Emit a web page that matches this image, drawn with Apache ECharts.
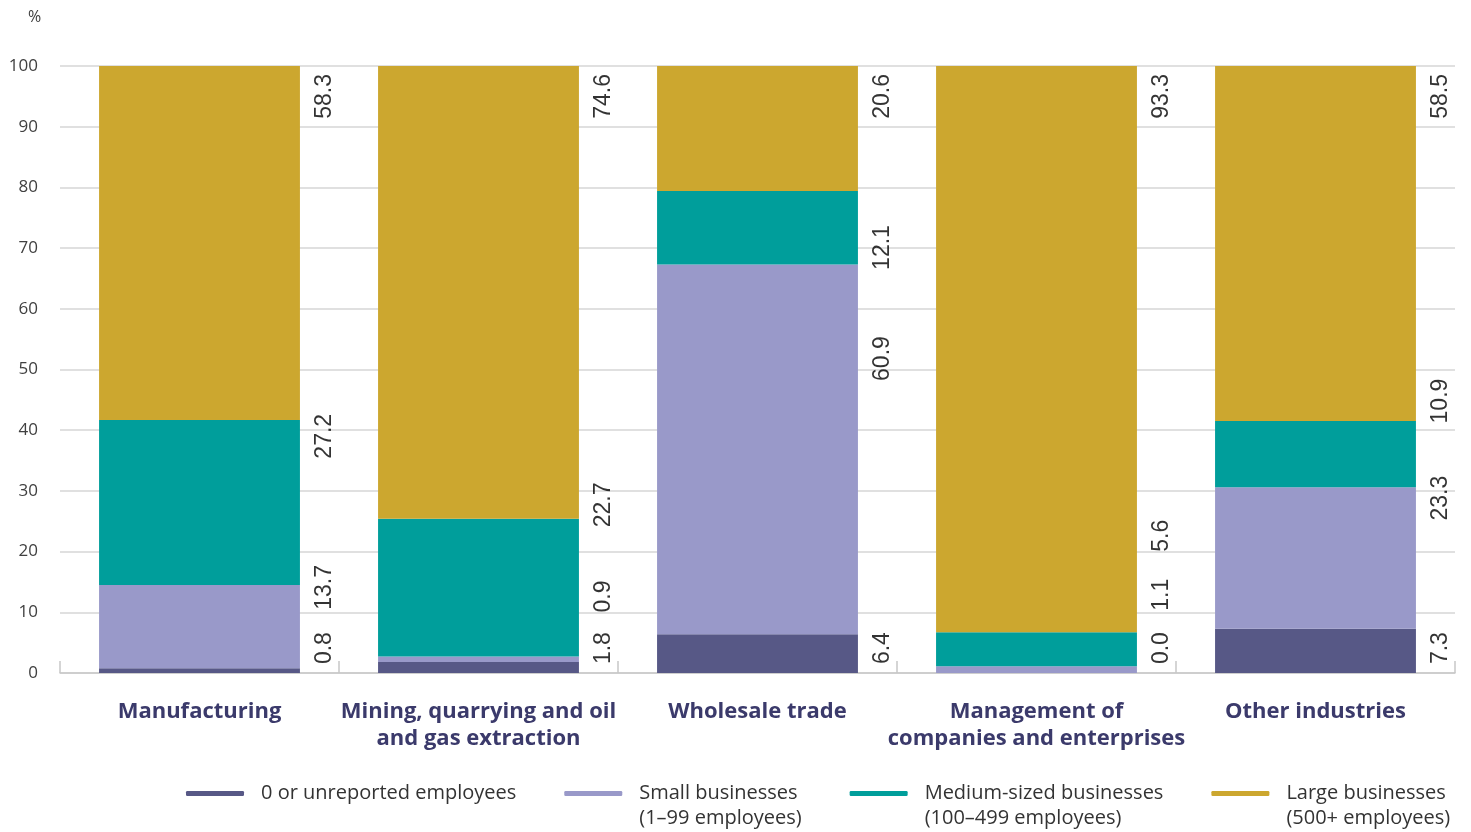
<!DOCTYPE html>
<html>
<head>
<meta charset="utf-8">
<script src="https://cdn.jsdelivr.net/npm/echarts@6/dist/echarts.min.js"></script>
<style>
html,body{margin:0;padding:0;background:#fff;}
#chart{width:1471px;height:832px;}
</style>
</head>
<body>
<div id="chart"></div>
<script>
// ---- data ----
const categories = ['Manufacturing', 'Mining, quarrying and oil\nand gas extraction', 'Wholesale trade', 'Management of\ncompanies and enterprises', 'Other industries'];
const seriesNames = ['0 or unreported employees', 'Small businesses\n(1\u201399 employees)', 'Medium-sized businesses\n(100\u2013499 employees)', 'Large businesses\n(500+ employees)'];
const zeroOrUnreported = [0.8, 1.8, 6.4, 0.0, 7.3];
const smallBusinesses = [13.7, 0.9, 60.9, 1.1, 23.3];
const mediumBusinesses = [27.2, 22.7, 12.1, 5.6, 10.9];
const largeBusinesses = [58.3, 74.6, 20.6, 93.3, 58.5];
const yTicks = { min: 0, max: 100, interval: 10 };

// ---- label placement (layout, in axis units, as in the reference) ----
const labelAnchorZero = [4.1, 4.1, 4.1, 4.1, 4.1];
const labelAnchorSmall = [14.1, 12.6, 51.8, 12.9, 28.8];
const labelAnchorMedium = [39.0, 27.7, 70.1, 22.6, 44.8];
const labelAnchorLarge = [95.0, 95.0, 95.0, 95.0, 95.0];

const colors = ['#575886', '#9999c9', '#009e9b', '#cca72f'];
const valueSets = [zeroOrUnreported, smallBusinesses, mediumBusinesses, largeBusinesses];
const anchorSets = [labelAnchorZero, labelAnchorSmall, labelAnchorMedium, labelAnchorLarge];

const chart = echarts.init(document.getElementById('chart'), null, {renderer: 'canvas'});

const barSeries = seriesNames.map((n, i) => ({
  name: n,
  type: 'bar',
  stack: 'total',
  barWidth: '72%',
  itemStyle: { color: colors[i] },
  data: valueSets[i],
  z: 3
}));

const labelData = [];
anchorSets.forEach((anch, si) => {
  anch.forEach((y, ci) => {
    labelData.push({ value: [ci, y], txt: valueSets[si][ci].toFixed(1) });
  });
});

const labelSeries = {
  type: 'scatter',
  symbolSize: 0,
  silent: true,
  data: labelData,
  z: 5,
  label: {
    show: true,
    position: 'inside',
    rotate: 90,
    offset: [0, 125],
    align: 'center',
    verticalAlign: 'middle',
    fontFamily: 'Liberation Sans',
    fontSize: 23,
    color: '#000',
    formatter: p => p.data.txt
  }
};

chart.setOption({
  animation: false,
  backgroundColor: '#fff',
  title: {
    text: '%',
    left: 23,
    top: 4,
    textStyle: { fontFamily: 'Open Sans', fontSize: 16, fontWeight: 'normal', color: '#404040' }
  },
  grid: { left: 60, right: 16, top: 66, bottom: 159 },
  legend: {
    data: seriesNames,
    left: 181,
    top: 751,
    itemGap: 48,
    itemWidth: 58,
    itemHeight: 5,
    icon: 'roundRect',
    formatter: name => '\n' + name + (name.indexOf('\n') >= 0 ? '' : '\n '),
    textStyle: {
      fontFamily: 'Open Sans',
      fontSize: 20,
      color: '#333',
      lineHeight: 25,
      padding: [0, 0, 0, 12]
    }
  },
  xAxis: {
    type: 'category',
    data: categories,
    axisLine: { show: true, lineStyle: { color: '#c8c8c8', width: 1.5 } },
    axisTick: { show: true, inside: true, length: 12, lineStyle: { color: '#c8c8c8', width: 1.5 } },
    axisLabel: {
      margin: 25,
      interval: 0,
      fontFamily: 'Open Sans',
      fontWeight: 'bold',
      fontSize: 22,
      lineHeight: 27,
      color: '#3b3a6b'
    }
  },
  yAxis: {
    type: 'value',
    min: yTicks.min,
    max: yTicks.max,
    interval: yTicks.interval,
    axisLine: { show: false },
    axisTick: { show: false },
    splitLine: { lineStyle: { color: '#d6d6d6', width: 1.5 } },
    axisLabel: { margin: 22, fontFamily: 'Open Sans', fontSize: 17, color: '#404040' }
  },
  series: barSeries.concat([labelSeries])
});
</script>
</body>
</html>
